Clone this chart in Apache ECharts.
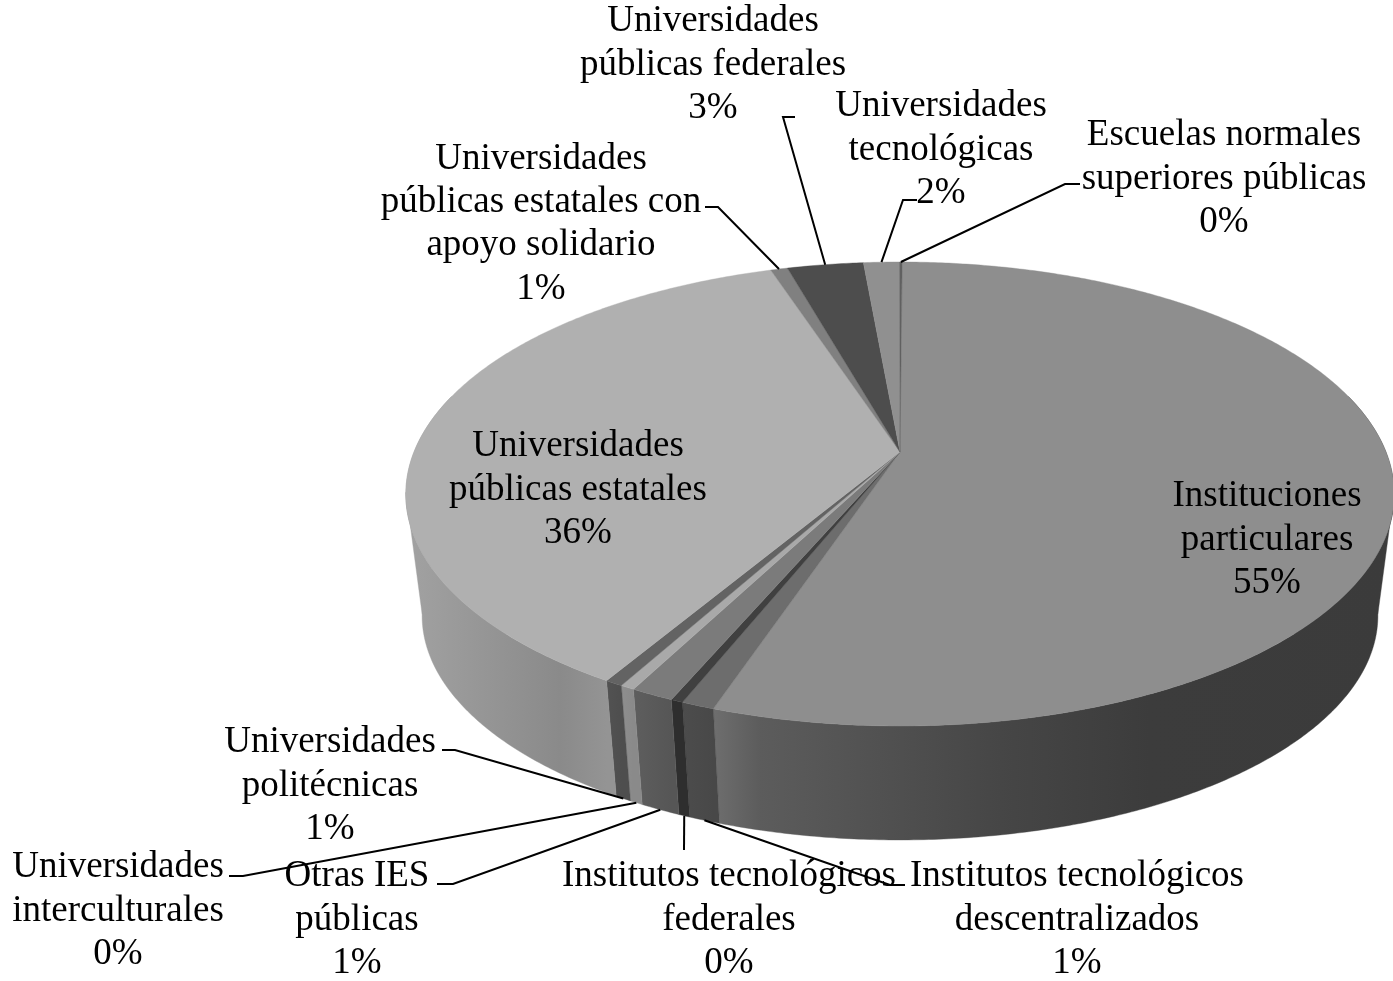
<!DOCTYPE html>
<html>
<head>
<meta charset="utf-8">
<style>html,body{margin:0;padding:0;background:#fff}#c{width:1393px;height:981px}</style>
<script src="https://cdn.jsdelivr.net/npm/echarts@6/dist/echarts.min.js"></script>
</head>
<body>
<div id="c"></div>
<script>
const categories = ['Instituciones\nparticulares','Institutos tecnológicos\ndescentralizados','Institutos tecnológicos\nfederales','Otras IES\npúblicas','Universidades\ninterculturales','Universidades\npolitécnicas','Universidades\npúblicas estatales','Universidades\npúblicas estatales con\napoyo solidario','Universidades\npúblicas federales','Universidades\ntecnológicas','Escuelas normales\nsuperiores públicas'];
const shares = [55.07,0.92,0.34,1.2,0.4,0.5,36.44,0.66,2.97,1.4,0.1];
const percentLabels = ['55%','1%','0%','1%','0%','1%','36%','1%','3%','2%','0%'];
const topColors = ['#8e8e8e','#6d6d6d','#404040','#7b7b7b','#a9a9a9','#636363','#b0b0b0','#808080','#4d4d4d','#909090','#606060'];
const wallColors = [
  [[714,'#6e6e6e'],[760,'#5c5c5c'],[1000,'#464646'],[1150,'#3c3c3c'],[1393,'#3b3b3b']],
  [[683,'#4c4c4c'],[714,'#484848']],
  [[671,'#2e2e2e'],[683,'#2e2e2e']],
  [[633,'#5e5e5e'],[671,'#565656']],
  [[622,'#8e8e8e'],[633,'#8a8a8a']],
  [[607,'#525252'],[622,'#4e4e4e']],
  [[405,'#a2a2a2'],[560,'#8a8a8a'],[607,'#949494']],
  [[0,'#777777'],[1,'#777777']],[[0,'#444444'],[1,'#444444']],[[0,'#777777'],[1,'#777777']],[[0,'#444444'],[1,'#444444']]
];

// Projection of the tilted disc
const K = 0.181, CX = 900;
const TOP = {f:486, g:224.4, cy:452};
const BOT = {f:470, g:217, cy:575};
const START = 0.3;
const TANGENTS = [100, 260];
function proj(deg, d){
  const t = deg*Math.PI/180, w = 1 + K*Math.cos(t);
  return [CX + d.f*Math.sin(t)/w, d.cy - d.g*Math.cos(t)/w];
}
function arc(a,b,d){
  const pts=[]; const n=Math.max(2,Math.ceil((b-a)/0.5));
  for(let i=0;i<=n;i++) pts.push(proj(a+(b-a)*i/n,d));
  return pts;
}
const total = shares.reduce((a,b)=>a+b,0);
let acc = START;
const rows = shares.map((v,i)=>{const s=acc; acc+=v/total*360; return [s,acc,i];});

// Label placement: [centre x, centre y of the block] and elbow points of the leader
const labelPos = [[1267,540],[1077,920],[729,920],[357,920],[118,911],[330,786],[578,490],[541,224],[713,65],[941,150],[1224,179]];
const leaders = [null,
  {pts:[[905,885],[890,885]]},
  {pts:[[684,850]]},
  {pts:[[437,884],[453,884]]},
  {pts:[[229,876],[243,876]]},
  {pts:[[442,750],[455,750]]},
  null,
  {pts:[[705,207],[718,207]]},
  {pts:[[795,117],[783,117]]},
  {pts:[[917,200],[903,200]]},
  {pts:[[1080,184],[1065,184]]}
];

function renderWall(p,api){
  const i=api.value(2);
  const a=Math.max(api.value(0),75), b=Math.min(api.value(1),285);
  if(b<=a) return {type:'group',children:[]};
  const stops=wallColors[i], x0=stops[0][0], x1=stops[stops.length-1][0];
  const fill=new echarts.graphic.LinearGradient(x0,0,x1,0,stops.map(s=>({offset:(s[0]-x0)/(x1-x0),color:s[1]})),true);
  const poly=points=>({type:'polygon',shape:{points},style:{fill,stroke:fill,lineWidth:0.4},silent:true});
  const children=[poly(arc(a,b,TOP).concat(arc(a,b,BOT).reverse()))];
  TANGENTS.forEach(t=>{
    if(t<a||t>b) return;
    // side edge of the drum: straight line joining the two rims
    const rim = t<180 ? arc(t,t+35,TOP) : arc(t-35,t,TOP);
    children.push(poly(rim.concat([proj(t,BOT)])));
  });
  return {type:'group',children,silent:true};
}
function renderTop(p,api){
  const i=api.value(2);
  const pts=[[CX,TOP.cy]].concat(arc(api.value(0),api.value(1),TOP));
  return {type:'polygon',shape:{points:pts},style:{fill:topColors[i],stroke:topColors[i],lineWidth:0.4},silent:true};
}
function renderLeader(p,api){
  const i=api.value(2), l=leaders[i];
  if(!l) return {type:'group',children:[]};
  const mid=(api.value(0)+api.value(1))/2;
  const front=mid>90&&mid<270;
  const end=proj(mid,front?BOT:TOP);
  const pts=l.pts.concat([end]);
  return {type:'polyline',shape:{points:pts},style:{fill:'none',stroke:'#000',lineWidth:2},silent:true};
}
function renderLabel(p,api){
  const i=api.value(2), pos=labelPos[i];
  return {type:'text',style:{text:categories[i]+'\n'+percentLabels[i],x:pos[0],y:pos[1],textAlign:'center',textVerticalAlign:'middle',font:'37px "Liberation Serif"',lineHeight:43.3,fill:'#000'},silent:true};
}
const mk=(renderItem,z)=>({type:'custom',coordinateSystem:'none',renderItem,data:rows,z,animation:false,clip:false,silent:true});
const chart=echarts.init(document.getElementById('c'),null,{renderer:'canvas'});
chart.setOption({animation:false,backgroundColor:'#fff',series:[mk(renderWall,1),mk(renderTop,2),mk(renderLeader,3),mk(renderLabel,4)]});
</script>
</body>
</html>
